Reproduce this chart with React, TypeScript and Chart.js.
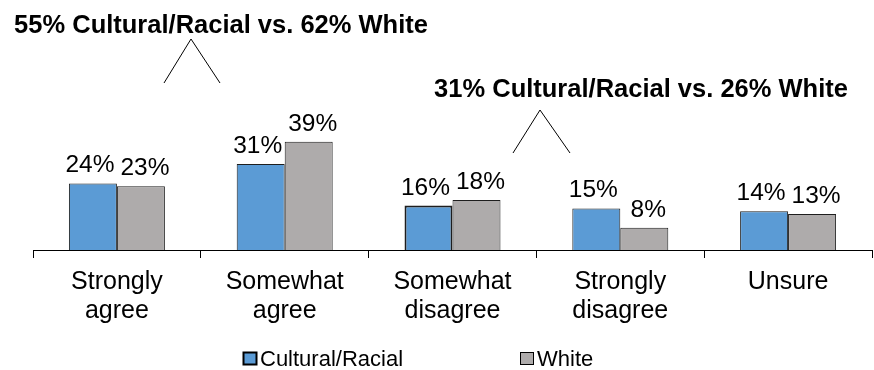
import React, { useEffect, useRef } from "react";
import { Chart, registerables } from "chart.js";

Chart.register(...registerables);

const categories: string[][] = [
  ["Strongly", "agree"],
  ["Somewhat", "agree"],
  ["Somewhat", "disagree"],
  ["Strongly", "disagree"],
  ["Unsure"],
];
const seriesNames = ["Cultural/Racial", "White"];
const culturalRacial = [24, 31, 16, 15, 14];
const white = [23, 39, 18, 8, 13];
const calloutTexts = [
  "55% Cultural/Racial vs. 62% White",
  "31% Cultural/Racial vs. 26% White",
];

const FONT = "'Liberation Sans', Arial, Helvetica, sans-serif";
const BLUE = "#5B9BD5";
const GRAY = "#AEABAB";
const EDGE = "#1E1E1E";

const valueLabels = {
  id: "valueLabels",
  afterDatasetsDraw(chart: any) {
    const ctx = chart.ctx;
    ctx.save();
    ctx.font = `24.5px ${FONT}`;
    ctx.fillStyle = "#000";
    ctx.textAlign = "center";
    ctx.textBaseline = "alphabetic";
    chart.data.datasets.forEach((ds: any, di: number) => {
      const meta = chart.getDatasetMeta(di);
      meta.data.forEach((bar: any, i: number) => {
        const dx = di === 0 ? -3 : 4;
        ctx.fillText(`${ds.data[i]}%`, bar.x + dx, bar.y - 11);
      });
    });
    ctx.restore();
  },
};

const callouts = {
  id: "callouts",
  afterDraw(chart: any) {
    const ctx = chart.ctx;
    ctx.save();
    ctx.font = `bold 25.5px ${FONT}`;
    ctx.fillStyle = "#000";
    ctx.textAlign = "center";
    ctx.textBaseline = "alphabetic";
    ctx.fillText(calloutTexts[0], 221, 33);
    ctx.fillText(calloutTexts[1], 641, 97);
    ctx.strokeStyle = "#000";
    ctx.lineWidth = 1;
    ctx.beginPath();
    ctx.moveTo(164, 83);
    ctx.lineTo(191, 39);
    ctx.lineTo(220, 83);
    ctx.moveTo(513, 153);
    ctx.lineTo(540, 110);
    ctx.lineTo(570, 153);
    ctx.stroke();
    ctx.restore();
  },
};

const customLegend = {
  id: "customLegend",
  afterDraw(chart: any) {
    const ctx = chart.ctx;
    ctx.save();
    ctx.font = `22px ${FONT}`;
    ctx.textBaseline = "middle";
    ctx.textAlign = "left";
    const starts = [243, 520];
    const cy = 359;
    chart.data.datasets.forEach((ds: any, di: number) => {
      const x = starts[di];
      ctx.fillStyle = ds.backgroundColor;
      ctx.fillRect(x + 0.5, cy - 6.5, 13, 12);
      ctx.strokeStyle = "#000";
      ctx.lineWidth = di === 0 ? 2 : 1;
      ctx.strokeRect(x + 0.5, cy - 6.5, 13, 12);
      ctx.fillStyle = "#000";
      ctx.fillText(ds.label, x + 17, cy + 1);
    });
    ctx.restore();
  },
};

export default function App() {
  const ref = useRef<HTMLCanvasElement>(null);
  useEffect(() => {
    if (!ref.current) return;
    const chart = new Chart(ref.current, {
      type: "bar",
      data: {
        labels: categories,
        datasets: [
          {
            label: seriesNames[0],
            data: culturalRacial,
            backgroundColor: BLUE,
            borderColor: EDGE,
            borderWidth: (c: any) => (c.dataIndex === 2 ? 2 : 1),
          },
          {
            label: seriesNames[1],
            data: white,
            backgroundColor: GRAY,
            borderColor: EDGE,
            borderWidth: 1,
          },
        ],
      },
      options: {
        responsive: false,
        animation: false,
        devicePixelRatio: 1,
        layout: { padding: { top: 28, left: 33, right: 2, bottom: 34 } },
        datasets: {
          bar: { categoryPercentage: 0.572, barPercentage: 1.0 },
        },
        plugins: {
          legend: { display: false },
          tooltip: { enabled: false },
        },
        scales: {
          x: {
            offset: true,
            border: { display: true, color: "#000", width: 1 },
            grid: {
              offset: true,
              drawOnChartArea: false,
              drawTicks: true,
              tickLength: 8,
              color: "#000",
            },
            ticks: {
              color: "#000",
              padding: 10,
              maxRotation: 0,
              autoSkip: false,
              font: { family: FONT, size: 25, lineHeight: 1.16 },
            },
          },
          y: {
            display: false,
            min: 0,
            max: 80,
          },
        },
      },
      plugins: [valueLabels, callouts, customLegend],
    });
    return () => chart.destroy();
  }, []);
  return (
    <div style={{ position: "fixed", left: 0, top: 0, width: 874, height: 370, background: "#fff" }}>
      <canvas ref={ref} width={874} height={370} />
    </div>
  );
}
